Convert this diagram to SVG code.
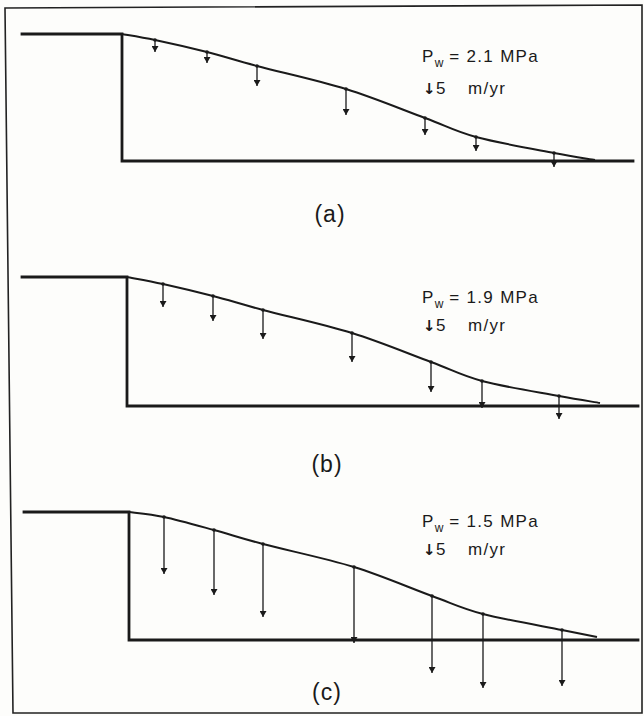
<svg xmlns="http://www.w3.org/2000/svg" width="644" height="716" viewBox="0 0 644 716">
<style>
.bg{fill:#fdfdfb}
.frame{fill:none;stroke:#222;stroke-width:1.6}
.bed{fill:none;stroke:#1a1a1a;stroke-width:2.8;stroke-linecap:square}
.surf{fill:none;stroke:#1a1a1a;stroke-width:2;stroke-linejoin:round}
.arr{stroke:#1a1a1a;stroke-width:1.3;marker-start:url(#dot);marker-end:url(#head)}
.t{font-family:"Liberation Sans",Arial,sans-serif;font-size:17px;fill:#1a1a1a;letter-spacing:1.3px}
.sub{font-size:12px;letter-spacing:0}
.ar{font-family:"DejaVu Sans",sans-serif;font-size:15px;font-weight:bold;letter-spacing:0}
.lab{font-family:"Liberation Sans",Arial,sans-serif;font-size:23px;fill:#1a1a1a;text-anchor:middle;letter-spacing:1px}
</style>
<defs>
<marker id="head" viewBox="0 -3.5 6 7" refX="6" refY="0" markerWidth="6" markerHeight="7" markerUnits="userSpaceOnUse" orient="auto">
<path d="M0,-3.5 L6,0 L0,3.5 z" fill="#1a1a1a"/>
</marker>
<marker id="dot" viewBox="-2 -2 4 4" refX="0" refY="0" markerWidth="4" markerHeight="4" markerUnits="userSpaceOnUse">
<circle r="1.8" fill="#1a1a1a"/>
</marker>
</defs>
<rect class="bg" x="0" y="0" width="644" height="716"/>
<path class="frame" d="M5,8 L642,5 L642,713 L13,713 Z"/>

<g id="panel-a">
<path class="bed" d="M22,34 H122 V161 H633"/>
<path class="surf" d="M122,34 C127.5,35 140.8,37 155,40 C169.2,43 190,47.7 207,52 C224,56.3 233.8,59.8 257,66 C280.2,72.2 318,80.3 346,89 C374,97.7 403.3,110 425,118 C446.7,126 454.5,131.2 476,137 C497.5,142.8 534.2,149.2 554,153 C573.8,156.8 588.2,158.8 595,160"/>
<g id="arrows-a">
<line class="arr" x1="155" y1="40" x2="155" y2="52"/>
<line class="arr" x1="207" y1="52" x2="207" y2="63"/>
<line class="arr" x1="257" y1="66" x2="257" y2="86"/>
<line class="arr" x1="346" y1="89" x2="346" y2="115"/>
<line class="arr" x1="425" y1="118" x2="425" y2="135"/>
<line class="arr" x1="476" y1="137" x2="476" y2="151"/>
<line class="arr" x1="554" y1="153" x2="554" y2="167"/>
</g>
<text class="t" x="422" y="62">P<tspan class="sub" dy="5">w</tspan><tspan dy="-5"> = 2.1 MPa</tspan></text>
<text class="t" x="423" y="94"><tspan class="ar">↓</tspan><tspan x="436">5</tspan><tspan x="468">m/yr</tspan></text>
<text class="lab" x="330" y="222">(a)</text>
</g>

<g id="panel-b">
<path class="bed" d="M22,277 H127 V406 H638"/>
<path class="surf" d="M127,277 C133,278.2 148.7,280.8 163,284 C177.3,287.2 196.3,291.7 213,296 C229.7,300.3 239.8,303.8 263,310 C286.2,316.2 324,324.3 352,333 C380,341.7 409.3,354 431,362 C452.7,370 460.7,375.3 482,381 C503.3,386.7 539.3,392.3 559,396 C578.7,399.7 593.2,401.8 600,403"/>
<g id="arrows-b">
<line class="arr" x1="163" y1="284" x2="163" y2="307"/>
<line class="arr" x1="213" y1="296" x2="213" y2="321"/>
<line class="arr" x1="263" y1="310" x2="263" y2="339"/>
<line class="arr" x1="352" y1="333" x2="352" y2="362"/>
<line class="arr" x1="431" y1="362" x2="431" y2="392"/>
<line class="arr" x1="482" y1="381" x2="482" y2="408"/>
<line class="arr" x1="559" y1="396" x2="559" y2="419"/>
</g>
<text class="t" x="422" y="303">P<tspan class="sub" dy="5">w</tspan><tspan dy="-5"> = 1.9 MPa</tspan></text>
<text class="t" x="423" y="331"><tspan class="ar">↓</tspan><tspan x="436">5</tspan><tspan x="468">m/yr</tspan></text>
<text class="lab" x="327" y="472">(b)</text>
</g>

<g id="panel-c">
<path class="bed" d="M24,512 H129 V640 H638"/>
<path class="surf" d="M129,512 C134.8,512.8 149.8,514 164,517 C178.2,520 197.5,525.5 214,530 C230.5,534.5 239.7,537.8 263,544 C286.3,550.2 325.8,558.3 354,567 C382.2,575.7 410.5,588.2 432,596 C453.5,603.8 461.3,608.3 483,614 C504.7,619.7 543,626.2 562,630 C581,633.8 591.2,635.8 597,637"/>
<g id="arrows-c">
<line class="arr" x1="164" y1="517" x2="164" y2="574"/>
<line class="arr" x1="214" y1="530" x2="214" y2="595"/>
<line class="arr" x1="263" y1="544" x2="263" y2="617"/>
<line class="arr" x1="354" y1="567" x2="354" y2="643"/>
<line class="arr" x1="432" y1="596" x2="432" y2="673"/>
<line class="arr" x1="483" y1="614" x2="483" y2="688"/>
<line class="arr" x1="562" y1="630" x2="562" y2="686"/>
</g>
<text class="t" x="422" y="527">P<tspan class="sub" dy="5">w</tspan><tspan dy="-5"> = 1.5 MPa</tspan></text>
<text class="t" x="423" y="555"><tspan class="ar">↓</tspan><tspan x="436">5</tspan><tspan x="468">m/yr</tspan></text>
<text class="lab" x="327" y="700">(c)</text>
</g>
</svg>
